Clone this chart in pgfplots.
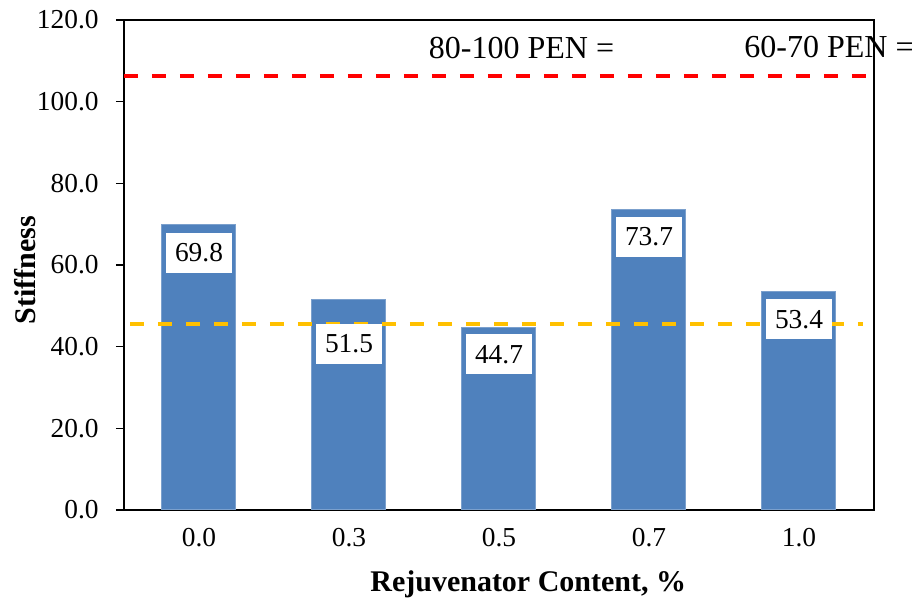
\documentclass[border=0pt]{standalone}
\usepackage{fontspec}
\setmainfont{Liberation Serif}
\usepackage{pgfplots}
\pgfplotsset{compat=1.18}
\usepackage{pgfplotstable}
\definecolor{barblue}{HTML}{4F81BD}
\definecolor{penred}{HTML}{FF0000}
\definecolor{penyellow}{HTML}{FFC000}

% stiffness per rejuvenator content; off = vertical shift of the value label (pt)
\pgfplotstableread{
x y off
0 69.8 -13.8
1 51.5 -22.2
2 44.7 -13.5
3 73.7 -13.8
4 53.4 -13.6
}\stiffness

\begin{document}
\begin{tikzpicture}
\useasboundingbox (-62pt,-45pt) rectangle (397pt,255pt);
\begin{axis}[
  at={(0,0)}, anchor=south west,
  scale only axis, width=375pt, height=245pt,
  xmin=-0.5, xmax=4.5, ymin=0, ymax=120,
  clip=false,
  xtick={0,1,2,3,4}, xticklabels={0.0,0.3,0.5,0.7,1.0},
  ytick={0,20,...,120},
  ytick pos=left, xtick pos=bottom,
  yticklabel={\pgfmathprintnumber[fixed,fixed zerofill,precision=1]{\tick}},
  /pgf/number format/assume math mode=true,
  major x tick style={draw=none},
  y tick style={black, line width=0.8pt},
  tick align=outside, major tick length=4pt,
  axis line style={black, line width=1pt},
  ticklabel style={font=\fontsize{13.7}{16}\selectfont},
  xticklabel style={anchor=center, yshift=-10pt},
  yticklabel style={anchor=east, inner sep=0pt, xshift=-8.5pt},
  xlabel={Rejuvenator Content, \%},
  ylabel={Stiffness},
  label style={font=\bfseries\fontsize{15}{18}\selectfont},
  xlabel style={at={(axis description cs:0.539,-0.151)}, anchor=center},
  ylabel style={at={(axis description cs:-0.132,0.49)}, anchor=center},
]
\addplot[ybar, bar width=37pt, fill=barblue, draw=barblue!75!white, line width=0.5pt,
  visualization depends on={\thisrow{off}\as\off},
  nodes near coords={\pgfmathprintnumber[fixed,fixed zerofill,precision=1]{\pgfplotspointmeta}},
  every node near coord/.append style={anchor=center, yshift=\off pt, fill=white,
    text=black, inner xsep=4.5pt, inner ysep=0pt, minimum height=20pt,
    font=\fontsize{13.7}{16}\selectfont}]
  table[x=x, y=y] {\stiffness};
% penetration-grade reference levels
\addplot[penred, line width=1.75pt, dash pattern=on 7pt off 7pt] coordinates {(-0.5,106.3) (4.447,106.3)};
\addplot[penyellow, line width=1.75pt, dash pattern=on 7pt off 7pt] coordinates {(-0.46,45.5) (4.43,45.5)};
\node[font=\fontsize{16}{19}\selectfont] at (axis cs:2.15,113.1) {80-100 PEN =};
\node[font=\fontsize{16}{19}\selectfont] at (axis cs:4.2,113.4) {60-70 PEN =};
\end{axis}
\end{tikzpicture}
\end{document}
